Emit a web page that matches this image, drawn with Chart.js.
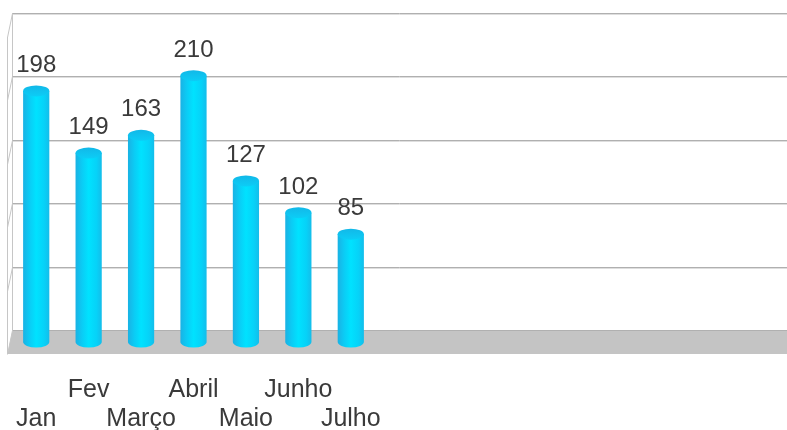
<!DOCTYPE html>
<html lang="pt">
<head>
<meta charset="utf-8">
<title>Vendas por mês</title>
<script src="https://cdn.jsdelivr.net/npm/chart.js@4.4.1/dist/chart.umd.min.js"></script>
<style>
  html, body { margin: 0; padding: 0; background: #fff; }
  .grafico { position: relative; width: 787px; height: 430px; }
</style>
</head>
<body>
<div class="grafico"><canvas id="meuGrafico"></canvas></div>
<script>
const meses = ['Jan', 'Fev', 'Março', 'Abril', 'Maio', 'Junho', 'Julho'];
const valores = [198, 149, 163, 210, 127, 102, 85];
const linhasGrade = [0, 50, 100, 150, 200, 250];

// meia profundidade do "3D" (deslocamento da parede de fundo em relação às barras)
const PROF_X = 2.5;
const PROF_Y = 12;
const FONTE = '"Liberation Sans", Arial, sans-serif';

// desenha piso, parede lateral e linhas de grade da parede de fundo
const cenario3d = {
  id: 'cenario3d',
  beforeDatasetsDraw(chart) {
    const { ctx, chartArea: a, scales: { y } } = chart;
    const w = chart.width;
    const base = y.getPixelForValue(0);
    const topo = y.getPixelForValue(linhasGrade[linhasGrade.length - 1]);
    const xFundo = a.left + PROF_X;
    const xFrente = a.left - PROF_X;
    ctx.save();

    // piso cinza
    ctx.fillStyle = '#c4c4c4';
    ctx.beginPath();
    ctx.moveTo(xFundo, base - PROF_Y);
    ctx.lineTo(w, base - PROF_Y);
    ctx.lineTo(w, base + PROF_Y);
    ctx.lineTo(xFrente, base + PROF_Y);
    ctx.closePath();
    ctx.fill();

    // parede lateral
    ctx.strokeStyle = '#c6c6c6';
    ctx.lineWidth = 1;
    ctx.beginPath();
    ctx.moveTo(xFundo, topo - PROF_Y);
    ctx.lineTo(xFundo, base - PROF_Y);
    ctx.moveTo(xFrente, topo + PROF_Y);
    ctx.lineTo(xFrente, base + PROF_Y);
    ctx.stroke();

    linhasGrade.forEach(v => {
      const gy = Math.round(y.getPixelForValue(v) - PROF_Y);
      ctx.beginPath();
      ctx.strokeStyle = '#b0b0b0';
      ctx.moveTo(xFundo, gy + 0.5);
      ctx.lineTo(w, gy + 0.5);
      ctx.stroke();
      if (v !== 0) {
        ctx.beginPath();
        ctx.strokeStyle = '#dedede';
        ctx.moveTo(xFundo, gy + 1.5);
        ctx.lineTo(w, gy + 1.5);
        ctx.stroke();
      }
      ctx.beginPath();
      ctx.strokeStyle = '#c6c6c6';
      ctx.moveTo(xFundo, gy + 0.5);
      ctx.lineTo(xFrente, gy + 0.5 + 2 * PROF_Y);
      ctx.stroke();
    });
    ctx.restore();
  },

  // cilindros e rótulos de valor
  afterDatasetsDraw(chart) {
    const { ctx } = chart;
    const meta = chart.getDatasetMeta(0);
    const dados = chart.data.datasets[0].data;
    ctx.save();
    meta.data.forEach((barra, i) => {
      const { x, y, base, width } = barra.getProps(['x', 'y', 'base', 'width'], true);
      const rx = width / 2;
      const ry = 5.5;

      const corpo = ctx.createLinearGradient(x - rx, 0, x + rx, 0);
      corpo.addColorStop(0, '#1ab2e4');
      corpo.addColorStop(0.25, '#0bccf5');
      corpo.addColorStop(0.5, '#00e2ff');
      corpo.addColorStop(0.8, '#06d2f8');
      corpo.addColorStop(1, '#14bdea');
      ctx.fillStyle = corpo;
      ctx.beginPath();
      ctx.moveTo(x - rx, y);
      ctx.lineTo(x - rx, base);
      ctx.ellipse(x, base, rx, ry, 0, Math.PI, 0, true);
      ctx.lineTo(x + rx, y);
      ctx.closePath();
      ctx.fill();

      const tampa = ctx.createLinearGradient(0, y - ry, 0, y + ry);
      tampa.addColorStop(0, '#12b8e8');
      tampa.addColorStop(1, '#0ccdf6');
      ctx.fillStyle = tampa;
      ctx.beginPath();
      ctx.ellipse(x, y, rx, ry, 0, 0, Math.PI * 2);
      ctx.fill();

      ctx.fillStyle = '#3a3a3a';
      ctx.font = '24px ' + FONTE;
      ctx.textAlign = 'center';
      ctx.textBaseline = 'alphabetic';
      ctx.fillText(String(dados[i]), x, y - 19);
    });
    ctx.restore();
  }
};

const ctx = document.getElementById('meuGrafico').getContext('2d');

new Chart(ctx, {
  type: 'bar',
  data: {
    labels: meses,
    datasets: [{
      data: valores,
      backgroundColor: 'rgba(0,0,0,0)',
      borderWidth: 0,
      categoryPercentage: 1,
      barPercentage: 0.5
    }]
  },
  options: {
    responsive: true,
    maintainAspectRatio: false,
    animation: false,
    layout: { padding: { left: 10, right: 410, top: 25, bottom: 0 } },
    plugins: {
      legend: { display: false },
      tooltip: { enabled: false }
    },
    scales: {
      x: {
        grid: { display: false },
        border: { display: false },
        afterFit(scale) {
          scale.height = 88;
          scale.paddingLeft = 0;
          scale.paddingRight = 0;
        },
        ticks: {
          autoSkip: false,
          maxRotation: 0,
          padding: 26,
          color: '#3a3a3a',
          font: { family: FONTE, size: 25, lineHeight: 1.16 },
          // rótulos alternados em duas linhas
          callback(valor, i) {
            const nome = this.getLabelForValue(valor);
            return i % 2 === 0 ? ['', nome] : [nome, ''];
          }
        }
      },
      y: {
        display: false,
        min: 0,
        max: 250,
        ticks: { stepSize: 50 }
      }
    }
  },
  plugins: [cenario3d]
});
</script>
</body>
</html>
